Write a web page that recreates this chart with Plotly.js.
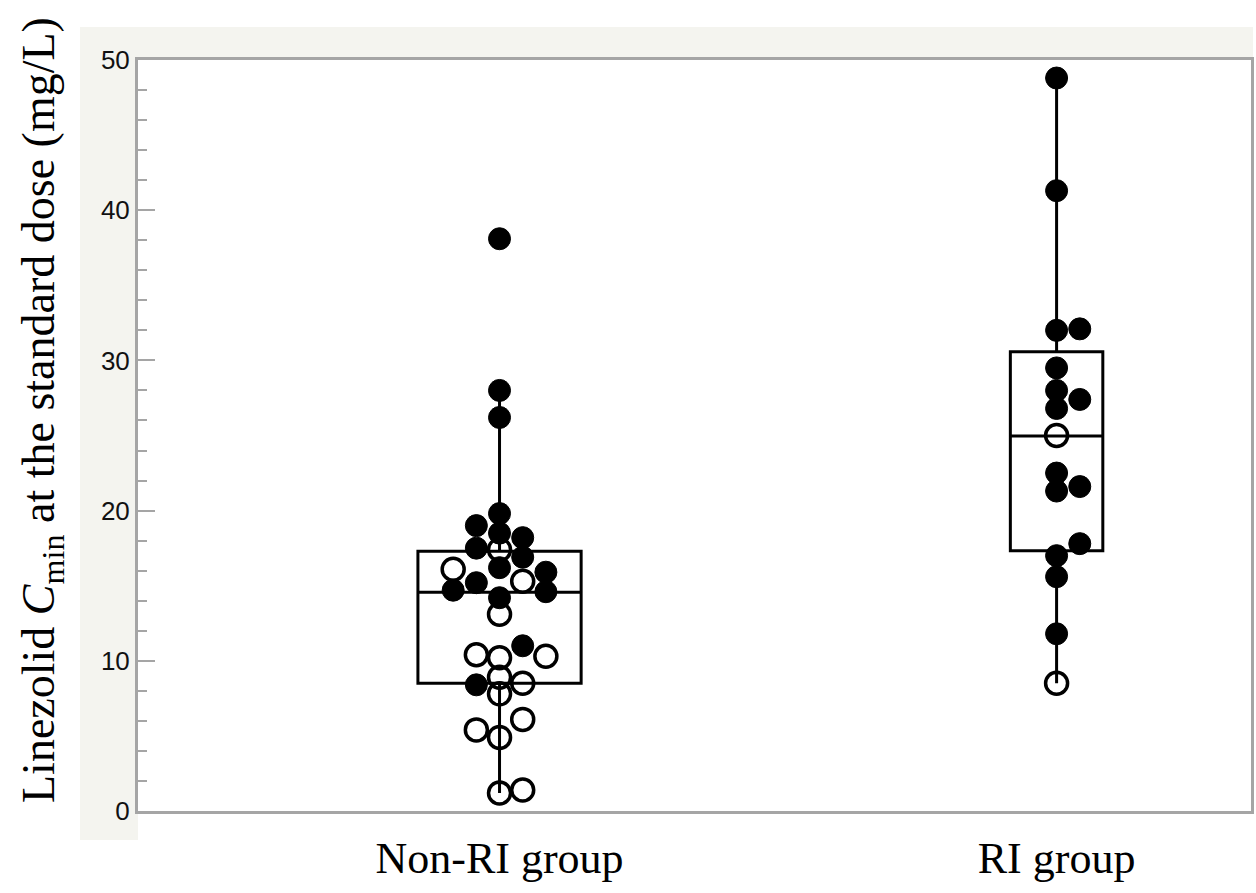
<!DOCTYPE html>
<html>
<head>
<meta charset="utf-8">
<script src="https://cdn.plot.ly/plotly-3.0.1.min.js"></script>
<style>
  html, body { margin: 0; padding: 0; background: #ffffff; }
  #chart { width: 1256px; height: 893px; }
</style>
</head>
<body>
<div id="chart"></div>
<script>
// Linezolid trough concentrations (mg/L) at the standard dose, by renal-impairment group.
const groups = ['Non-RI group', 'RI group'];
const groupX = [0, 1];

// Non-RI group: solid and hollow markers, with their swarm column (-2 … 2)
const nonRiSolid = [38.1, 28.0, 26.2, 19.8, 19.0, 18.5, 18.2, 17.5, 16.9, 16.2, 15.9, 15.2, 14.7, 14.6, 14.2, 11.0, 8.4];
const nonRiSolidCol = [0, 0, 0, 0, -1, 0, 1, -1, 1, 0, 2, -1, -2, 2, 0, 1, -1];
const nonRiHollow = [17.4, 16.1, 15.3, 13.1, 10.4, 10.2, 10.3, 8.9, 8.5, 7.8, 6.1, 5.4, 4.9, 1.2, 1.4];
const nonRiHollowCol = [0, -2, 1, 0, -1, 0, 2, 0, 1, 0, 1, -1, 0, 0, 1];

// RI group
const riSolid = [48.8, 41.3, 32.0, 32.1, 29.5, 28.0, 27.4, 26.8, 22.5, 21.3, 21.6, 17.8, 17.0, 15.6, 11.8];
const riSolidCol = [0, 0, 0, 1, 0, 0, 1, 0, 0, 0, 1, 1, 0, 0, 0];
const riHollow = [25.0, 8.5];
const riHollowCol = [0, 0];

// Box summaries per group
const boxQ1 = [8.5, 17.33];
const boxMedian = [14.56, 24.97];
const boxQ3 = [17.3, 30.58];
const boxLow = [1.2, 8.5];
const boxHigh = [28.0, 48.8];

// Drawing constants
const COL_STEP = 0.0416;          // horizontal spacing of swarm columns
const BOX_WIDTHS = [0.293, 0.166];
const FRAME = '#a5a5a5';
const SERIF = '"Liberation Serif", "Times New Roman", serif';
const SANS = '"Liberation Sans", Arial, sans-serif';

const xs = (gx, cols) => cols.map(c => gx + c * COL_STEP);

const boxes = groups.map((g, i) => ({
  type: 'box',
  name: g,
  x: [groupX[i]],
  q1: [boxQ1[i]],
  median: [boxMedian[i]],
  q3: [boxQ3[i]],
  lowerfence: [boxLow[i]],
  upperfence: [boxHigh[i]],
  width: BOX_WIDTHS[i],
  whiskerwidth: 0,
  boxpoints: false,
  fillcolor: 'rgba(255,255,255,0)',
  line: { color: '#000000', width: 3 },
  hoverinfo: 'skip',
  showlegend: false
}));

const hollowStyle = { size: 22, color: 'rgba(0,0,0,0)', line: { color: '#000000', width: 3.5 } };
const solidStyle = { size: 22, color: '#000000', line: { color: '#000000', width: 1 } };

const points = [
  { x: xs(groupX[0], nonRiHollowCol), y: nonRiHollow, marker: hollowStyle },
  { x: xs(groupX[1], riHollowCol), y: riHollow, marker: hollowStyle },
  { x: xs(groupX[0], nonRiSolidCol), y: nonRiSolid, marker: solidStyle },
  { x: xs(groupX[1], riSolidCol), y: riSolid, marker: solidStyle }
].map(t => Object.assign({ type: 'scatter', mode: 'markers', showlegend: false, hoverinfo: 'y' }, t));

// pixel helpers for the paper-anchored backdrop
const L = 138, R = 1251, T = 60, B = 811;
const px = v => (v - L) / (R - L);
const py = v => (B - v) / (B - T);

const layout = {
  width: 1256,
  height: 893,
  margin: { l: L, r: 1256 - R, t: T, b: 893 - B },
  paper_bgcolor: '#ffffff',
  plot_bgcolor: '#ffffff',
  showlegend: false,
  xaxis: {
    range: [-0.649, 1.349],
    tickvals: groupX,
    ticktext: groups,
    ticks: '',
    ticklabelstandoff: 6,
    showgrid: false,
    zeroline: false,
    showline: true,
    mirror: true,
    linecolor: FRAME,
    linewidth: 3,
    tickfont: { family: SERIF, size: 44, color: '#000000' }
  },
  yaxis: {
    range: [0, 50],
    tickvals: [0, 10, 20, 30, 40, 50],
    ticks: 'inside',
    ticklen: 17,
    tickwidth: 2,
    tickcolor: FRAME,
    minor: { dtick: 2, ticks: 'inside', ticklen: 9, tickwidth: 2, tickcolor: FRAME, showgrid: false },
    showgrid: false,
    zeroline: false,
    showline: true,
    mirror: true,
    linecolor: FRAME,
    linewidth: 3,
    tickfont: { family: SANS, size: 26, color: '#111111' }
  },
  shapes: [
    { type: 'rect', xref: 'paper', yref: 'paper', layer: 'below',
      x0: px(80), x1: px(138), y0: py(840), y1: py(27),
      fillcolor: '#f4f4ef', line: { width: 0 } },
    { type: 'rect', xref: 'paper', yref: 'paper', layer: 'below',
      x0: px(80), x1: px(1253), y0: py(60), y1: py(27),
      fillcolor: '#f4f4ef', line: { width: 0 } }
  ],
  annotations: [
    { text: 'Linezolid <i>C</i><sub>min</sub> at the standard dose (mg/L)',
      xref: 'paper', yref: 'paper', x: px(42), y: py(410),
      xanchor: 'center', yanchor: 'middle', textangle: -90, showarrow: false,
      font: { family: SERIF, size: 46, color: '#000000' } }
  ]
};

Plotly.newPlot('chart', boxes.concat(points), layout, { staticPlot: true, displayModeBar: false });
</script>
</body>
</html>
